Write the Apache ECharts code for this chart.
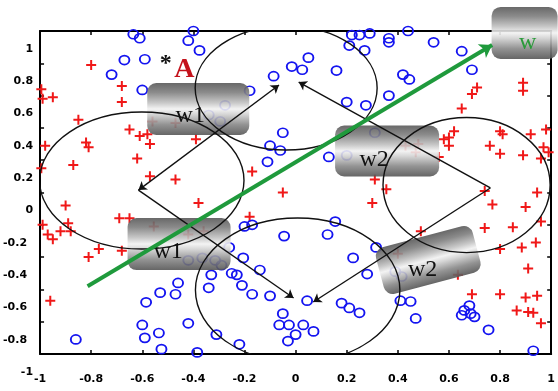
<!DOCTYPE html>
<html>
<head>
<meta charset="utf-8">
<script src="https://cdn.jsdelivr.net/npm/echarts@6/dist/echarts.min.js"></script>
<style>
  html, body { margin: 0; padding: 0; background: #fff; }
  #chart { width: 558px; height: 391px; }
</style>
</head>
<body>
<div id="chart"></div>
<script>
// class +1 samples (red crosses)
const crossPoints = [
  [-0.80, 0.79], [-0.995, 0.64], [-0.99, 0.58], [-0.95, 0.59], [-0.68, 0.66], [-0.68, 0.56],
  [-0.85, 0.45], [-0.98, 0.29], [-0.82, 0.31], [-0.81, 0.28], [-0.65, 0.39], [-0.61, 0.35],
  [-0.58, 0.36], [-0.57, 0.30], [-0.62, 0.21], [-0.87, 0.17], [-0.995, 0.15], [-0.57, 0.10],
  [-0.56, 0.44], [-0.39, 0.33], [-0.47, 0.08], [-0.17, 0.13], [-0.05, 0.00], [-0.47, 0.43],
  [0.43, 0.29], [0.47, 0.25], [0.48, 0.30], [0.31, 0.08], [0.355, 0.02], [0.71, 0.65],
  [0.69, 0.61], [0.89, 0.68], [0.89, 0.63], [0.65, 0.52], [0.62, 0.38], [0.58, 0.33],
  [0.60, 0.34], [0.60, 0.29], [0.80, 0.38], [0.81, 0.36], [0.92, 0.36], [0.98, 0.39],
  [0.76, 0.29], [0.80, 0.24], [0.89, 0.23], [0.97, 0.28], [0.96, 0.21], [0.56, 0.22],
  [0.74, 0.01], [0.945, 0.00], [0.99, 0.25],
  [-0.90, -0.08], [-0.69, -0.16], [-0.65, -0.16], [-0.99, -0.20], [-0.89, -0.19], [-0.97, -0.26],
  [-0.95, -0.29], [-0.92, -0.24], [-0.88, -0.24], [-0.77, -0.35], [-0.81, -0.40], [-0.68, -0.36],
  [-0.96, -0.67], [-0.555, -0.21], [-0.38, -0.065], [-0.18, -0.15], [-0.36, -0.24], [-0.42, -0.26],
  [0.30, -0.065], [0.49, -0.24], [0.40, -0.38], [0.77, -0.075], [0.90, -0.09], [0.74, -0.22],
  [0.85, -0.215], [0.96, -0.18], [0.80, -0.35], [0.885, -0.34], [0.94, -0.31], [0.91, -0.47],
  [0.69, -0.63], [0.80, -0.63], [0.90, -0.65], [0.945, -0.64], [0.865, -0.73], [0.91, -0.74],
  [0.93, -0.745], [0.96, -0.81], [0.635, -0.51]
]

// class -1 samples (blue circles)
const circlePoints = [
  [-0.635, 0.98], [-0.61, 0.955], [-0.67, 0.82], [-0.59, 0.825], [-0.72, 0.73], [-0.60, 0.635],
  [-0.40, 1.0], [-0.42, 0.94], [-0.376, 0.88], [-0.086, 0.72], [-0.015, 0.78], [-0.18, 0.63],
  [-0.276, 0.54], [-0.34, 0.48], [-0.295, 0.44], [-0.05, 0.37], [-0.10, 0.29], [-0.06, 0.26],
  [-0.11, 0.19], [0.22, 0.975], [0.25, 0.975], [0.29, 0.985], [0.365, 0.955], [0.365, 0.93],
  [0.44, 1.0], [0.21, 0.91], [0.27, 0.88], [0.05, 0.835], [0.026, 0.76], [0.16, 0.755],
  [0.42, 0.73], [0.445, 0.70], [0.365, 0.60], [0.20, 0.56], [0.275, 0.54], [0.31, 0.37],
  [0.13, 0.22], [0.20, 0.23], [0.54, 0.93], [0.65, 0.875], [0.69, 0.76],
  [-0.86, -0.91], [-0.53, -0.62], [-0.585, -0.68], [-0.60, -0.82], [-0.59, -0.90], [-0.535, -0.87],
  [-0.525, -0.97], [-0.20, -0.21], [-0.17, -0.20], [-0.045, -0.27], [-0.26, -0.34], [-0.205, -0.405],
  [-0.14, -0.48], [-0.33, -0.51], [-0.25, -0.50], [-0.23, -0.51], [-0.21, -0.575], [-0.34, -0.59],
  [-0.17, -0.63], [-0.10, -0.64], [-0.46, -0.56], [-0.47, -0.63], [-0.05, -0.75], [-0.064, -0.82],
  [-0.026, -0.82], [-0.42, -0.81], [-0.31, -0.88], [-0.22, -0.94], [-0.03, -0.92], [-0.385, -0.99],
  [-0.42, -0.42], [-0.365, -0.405], [-0.315, -0.42], [-0.29, -0.45],
  [0.155, -0.18], [0.125, -0.26], [0.315, -0.34], [0.225, -0.405], [0.28, -0.505], [0.39, -0.49],
  [0.415, -0.52], [0.045, -0.67], [0.18, -0.685], [0.21, -0.715], [0.25, -0.745], [0.41, -0.67],
  [0.45, -0.675], [0.47, -0.78], [0.03, -0.82], [0.07, -0.86], [0.0, -0.88], [0.66, -0.73],
  [0.685, -0.75], [0.65, -0.76], [0.70, -0.77], [0.68, -0.70], [0.755, -0.85], [0.93, -0.98]
]

// neighbourhood ellipses: centre and radii (data units)
const ellipseCenters = [[-0.602, 0.074], [-0.037, 0.647], [0.669, 0.046], [0.008, -0.604]]
const ellipseRadii = [[0.40, 0.424], [0.356, 0.384], [0.327, 0.418], [0.40, 0.446]]

// update arrows between the four vertices
const arrowSegments = [
  [[0.762, 0.028], [0.012, 0.684]],
  [[-0.615, 0.015], [-0.008, -0.653]],
  [[0.762, 0.028], [0.069, -0.678]]
]
const twoWaySegments = [[[-0.615, 0.015], [-0.065, 0.666]]]

// separating direction w
const wLine = [[-0.814, -0.581], [0.769, 0.913]]

// label anchors
const labelAnchors = [[-0.381, 0.517], [-0.456, -0.319], [0.358, 0.257], [0.519, -0.418], [0.896, 0.988]]
const labelTexts = ['w1', 'w1', 'w2', 'w2', 'w']
const markAnchors = [[-0.508, 0.795], [-0.435, 0.758]]
const markTexts = ['*', 'A']

const tickLabels = ['-1', '-0.8', '-0.6', '-0.4', '-0.2', '0', '0.2', '0.4', '0.6', '0.8', '1']

// box look (pixels)
const boxStyle = [
  { w: 102, h: 52, rot: 0, dx: -8, dy: 7, color: '#111' },
  { w: 103, h: 52, rot: 0, dx: -11, dy: 8, color: '#111' },
  { w: 104, h: 51, rot: 0, dx: -13, dy: 9, color: '#111' },
  { w: 100, h: 48, rot: 0.26, dx: -8, dy: 8, color: '#111' },
  { w: 66, h: 52, rot: 0, dx: 3, dy: 10, color: '#2a9a3a' }
]

const chart = echarts.init(document.getElementById('chart'))

const boxFill = new echarts.graphic.LinearGradient(0, 0, 0, 1, [
  { offset: 0, color: '#585858' },
  { offset: 0.18, color: '#7e7e7e' },
  { offset: 0.38, color: '#c2c2c2' },
  { offset: 0.5, color: '#f2f2f2' },
  { offset: 0.6, color: '#d2d2d2' },
  { offset: 0.8, color: '#878787' },
  { offset: 1, color: '#555' }
])

function tickFormatter(v) {
  const i = Math.round((v + 1) / 0.2)
  return tickLabels[i] ?? ''
}

function yTickFormatter(v) {
  const t = tickFormatter(v)
  return v < -0.01 && v > -0.99 ? `{n|${t}}` : t
}

const tickFont = { color: '#000', fontFamily: 'DejaVu Sans', fontWeight: 'bold', fontSize: 11 }
const axisLine = { onZero: false, lineStyle: { color: '#000', width: 2 } }
const axisTick = { inside: true, length: 4, lineStyle: { color: '#000', width: 1.5 } }

chart.setOption({
  animation: false,
  backgroundColor: '#fff',
  grid: { left: 35, right: 3, top: 31, bottom: 37 },
  xAxis: [
    {
      type: 'value', min: -1, max: 1, interval: 0.2, position: 'bottom',
      axisLine, axisTick, splitLine: { show: false },
      axisLabel: { ...tickFont, margin: 20, formatter: tickFormatter }
    },
    {
      type: 'value', min: -1, max: 1, interval: 0.2, position: 'top',
      axisLine, axisTick, splitLine: { show: false }, axisLabel: { show: false }
    }
  ],
  yAxis: [
    {
      type: 'value', min: -1, max: 1, interval: 0.2, position: 'left',
      axisLine, axisTick, splitLine: { show: false },
      axisLabel: {
        ...tickFont, margin: 7, padding: [36, 0, 0, 0], formatter: yTickFormatter,
        rich: { n: { ...tickFont, padding: [0, 6, 0, 0] } }
      }
    },
    {
      type: 'value', min: -1, max: 1, interval: 0.2, position: 'right',
      axisLine, axisTick, splitLine: { show: false }, axisLabel: { show: false }
    }
  ],
  series: [
    {
      type: 'scatter',
      data: crossPoints,
      symbol: 'path://M4,0H6V4H10V6H6V10H4V6H0V4H4Z',
      symbolSize: 10,
      itemStyle: { color: '#f01818', opacity: 1 },
      z: 2
    },
    {
      type: 'scatter',
      data: circlePoints,
      symbol: 'circle',
      symbolSize: [10, 9],
      itemStyle: { color: 'rgba(0,0,0,0)', borderColor: '#1414f0', borderWidth: 1.8, opacity: 1 },
      z: 2
    },
    {
      type: 'custom',
      data: labelAnchors,
      z: 3,
      renderItem(params, api) {
        const i = params.dataIndex
        const s = boxStyle[i]
        const c = api.coord([api.value(0), api.value(1)])
        return {
          type: 'group',
          x: c[0],
          y: c[1],
          rotation: s.rot,
          children: [
            {
              type: 'rect',
              shape: { x: -s.w / 2, y: -s.h / 2, width: s.w, height: s.h, r: 9 },
              style: { fill: boxFill, opacity: 0.9 }
            },
            {
              type: 'text',
              x: s.dx,
              y: s.dy,
              rotation: -s.rot,
              style: {
                text: labelTexts[i], fill: s.color,
                font: '24px "Liberation Serif"', align: 'center', verticalAlign: 'middle'
              }
            }
          ]
        }
      }
    },
    {
      type: 'custom',
      clip: true,
      z: 4,
      data: ellipseCenters.map((c, i) => [c[0], c[1], ellipseRadii[i][0], ellipseRadii[i][1]]),
      renderItem(params, api) {
        const c = api.coord([api.value(0), api.value(1)])
        const r = api.size([api.value(2), api.value(3)])
        return {
          type: 'ellipse',
          shape: { cx: c[0], cy: c[1], rx: r[0], ry: r[1] },
          style: { fill: 'none', stroke: '#111', lineWidth: 1.4 }
        }
      }
    },
    {
      type: 'lines',
      coordinateSystem: 'cartesian2d',
      z: 5,
      symbol: ['none', 'arrow'],
      symbolSize: 8,
      lineStyle: { color: '#111', width: 1.4, opacity: 1 },
      data: arrowSegments.map((s) => ({ coords: s }))
    },
    {
      type: 'lines',
      coordinateSystem: 'cartesian2d',
      z: 5,
      symbol: ['arrow', 'arrow'],
      symbolSize: 8,
      lineStyle: { color: '#111', width: 1.4, opacity: 1 },
      data: twoWaySegments.map((s) => ({ coords: s }))
    },
    {
      type: 'lines',
      coordinateSystem: 'cartesian2d',
      z: 8,
      symbol: ['none', 'arrow'],
      symbolSize: 12,
      lineStyle: { color: '#1f9a3c', width: 4, opacity: 1 },
      data: [{ coords: wLine }]
    },
    {
      type: 'custom',
      z: 9,
      data: markAnchors,
      renderItem(params, api) {
        const i = params.dataIndex
        const c = api.coord([api.value(0), api.value(1)])
        const isA = markTexts[i] === 'A'
        return {
          type: 'text',
          x: c[0],
          y: c[1],
          style: {
            text: markTexts[i],
            fill: isA ? '#c4121c' : '#111',
            font: isA ? 'bold 28px "Liberation Serif"' : 'bold 24px "Liberation Serif"',
            align: 'center',
            verticalAlign: 'middle'
          }
        }
      }
    }
  ]
})
</script>
</body>
</html>
